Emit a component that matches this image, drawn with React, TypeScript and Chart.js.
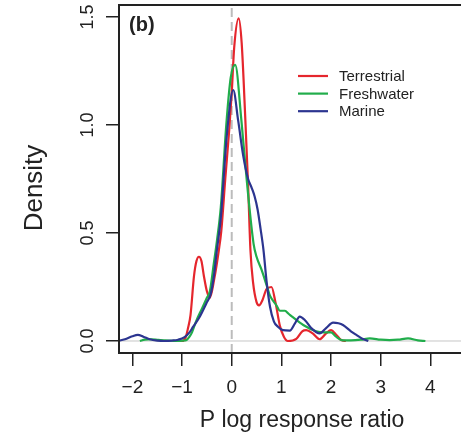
import React, { useEffect, useRef } from 'react';
import { Chart, registerables } from 'chart.js';

Chart.register(...registerables);

// ---- data ----
const seriesNames = ['Terrestrial', 'Freshwater', 'Marine'];
const seriesColors = ['#e5262d', '#21ad4b', '#2c3590'];

const terrestrialX = [-1.1, -1.0, -0.93, -0.88, -0.83, -0.76, -0.71, -0.66, -0.61, -0.56, -0.5, -0.44, -0.35, -0.26, -0.21, -0.13, -0.05, 0.0, 0.05, 0.14, 0.2, 0.275, 0.33, 0.377, 0.43, 0.5, 0.55, 0.62, 0.7, 0.8, 0.88, 0.97, 1.05, 1.13, 1.3, 1.42, 1.5, 1.63, 1.77, 1.9, 2.0, 2.1, 2.2, 2.3];
const terrestrialY = [0, 0, 0.015, 0.06, 0.12, 0.3, 0.37, 0.39, 0.37, 0.3, 0.23, 0.2, 0.29, 0.42, 0.51, 0.75, 0.98, 1.15, 1.36, 1.494, 1.38, 1.02, 0.72, 0.42, 0.27, 0.18, 0.165, 0.19, 0.24, 0.25, 0.18, 0.07, 0.02, 0.0, 0.01, 0.045, 0.05, 0.035, 0.008, 0.035, 0.05, 0.03, 0.005, 0];

const freshwaterX = [-1.85, -1.75, -1.62, -1.48, -1.35, -1.2, -1.09, -0.98, -0.91, -0.85, -0.8, -0.72, -0.6, -0.5, -0.44, -0.36, -0.3, -0.22, -0.11, -0.02, 0.07, 0.195, 0.3, 0.44, 0.5, 0.6, 0.7, 0.77, 0.9, 0.97, 1.07, 1.15, 1.23, 1.44, 1.7, 1.85, 2.0, 2.1, 2.24, 2.4, 2.6, 2.78, 3.0, 3.18, 3.35, 3.55, 3.75, 3.9];
const freshwaterY = [0, 0.006, 0.008, 0.005, 0.003, 0.001, 0, 0.002, 0.005, 0.02, 0.04, 0.09, 0.15, 0.2, 0.23, 0.36, 0.46, 0.62, 1.0, 1.22, 1.278, 1.02, 0.75, 0.45, 0.39, 0.33, 0.26, 0.21, 0.165, 0.14, 0.14, 0.125, 0.11, 0.074, 0.045, 0.04, 0.04, 0.02, 0.003, 0.003, 0.006, 0.012, 0.006, 0.004, 0.006, 0.012, 0.003, 0];

const marineX = [-2.3, -2.15, -2.0, -1.89, -1.78, -1.65, -1.5, -1.35, -1.2, -1.08, -0.95, -0.85, -0.78, -0.65, -0.51, -0.42, -0.36, -0.3, -0.22, -0.1, 0.03, 0.13, 0.23, 0.33, 0.4, 0.46, 0.52, 0.58, 0.64, 0.7, 0.77, 0.85, 0.93, 1.03, 1.17, 1.27, 1.37, 1.48, 1.6, 1.77, 1.9, 2.04, 2.15, 2.24, 2.4, 2.51, 2.62, 2.75];
const marineY = [0, 0.008, 0.022, 0.028, 0.02, 0.008, 0.002, 0, 0.002, 0.006, 0.018, 0.04, 0.065, 0.11, 0.175, 0.22, 0.3, 0.42, 0.57, 0.95, 1.162, 1.02, 0.86, 0.75, 0.71, 0.67, 0.61, 0.52, 0.42, 0.28, 0.16, 0.09, 0.066, 0.05, 0.048, 0.08, 0.113, 0.095, 0.06, 0.035, 0.06, 0.085, 0.082, 0.074, 0.045, 0.028, 0.012, 0];

const xTickValues = [-2, -1, 0, 1, 2, 3, 4];
const xTickLabels = ['\u22122', '\u22121', '0', '1', '2', '3', '4'];
const yTickValues = [0, 0.5, 1, 1.5];
const yTickLabels = ['0.0', '0.5', '1.0', '1.5'];
const xRange = [-2.27, 5.1];
const yRange = [-0.0556, 1.5556];

const xTitle = 'P log response ratio';
const yTitle = 'Density';
const panelLabel = '(b)';

const FONT = '"Liberation Sans", Arial, Helvetica, sans-serif';
const INK = '#222222';

const toPoints = (xs: number[], ys: number[]) => xs.map((x, i) => ({ x, y: ys[i] }));

const decorPlugin = {
  id: 'decor',
  afterDraw(chart: any) {
    const { ctx, chartArea: a } = chart;
    const ys = chart.scales.y;
    ctx.save();
    // box
    ctx.strokeStyle = INK;
    ctx.lineWidth = 2;
    ctx.strokeRect(a.left, a.top, a.right - a.left, a.bottom - a.top);
    // panel label
    ctx.fillStyle = INK;
    ctx.font = `bold 20px ${FONT}`;
    ctx.textAlign = 'left';
    ctx.textBaseline = 'middle';
    ctx.fillText(panelLabel, a.left + 10, a.top + 20);
    // legend
    ctx.font = `15px ${FONT}`;
    [0, 1, 2].forEach((k, i) => {
      const y = 76 + i * 17.6;
      ctx.strokeStyle = seriesColors[k];
      ctx.lineWidth = 2.2;
      ctx.beginPath();
      ctx.moveTo(298, y);
      ctx.lineTo(328, y);
      ctx.stroke();
      ctx.fillStyle = INK;
      ctx.fillText(seriesNames[k], 339, y + 1);
    });
    // y tick labels (rotated, centred on the ticks)
    ctx.font = `18px ${FONT}`;
    ctx.textAlign = 'center';
    yTickValues.forEach((v, i) => {
      const p = ys.getPixelForValue(v);
      ctx.save();
      ctx.translate(ys.right - 31, p);
      ctx.rotate(-Math.PI / 2);
      ctx.fillText(yTickLabels[i], 0, 0);
      ctx.restore();
    });
    // y title
    ctx.translate(35, 188);
    ctx.rotate(-Math.PI / 2);
    ctx.font = `26px ${FONT}`;
    ctx.fillText(yTitle, 0, 0);
    ctx.restore();
  },
};

export default function App() {
  const ref = useRef<HTMLCanvasElement | null>(null);
  useEffect(() => {
    if (!ref.current) return;
    const curve = (k: number, xs: number[], ys: number[]) => ({
      label: seriesNames[k],
      data: toPoints(xs, ys),
      borderColor: seriesColors[k],
      borderWidth: 2.2,
      pointRadius: 0,
      fill: false,
      cubicInterpolationMode: 'monotone' as const,
    });
    const chart = new Chart(ref.current, {
      type: 'line',
      data: {
        datasets: [
          curve(2, marineX, marineY),
          curve(1, freshwaterX, freshwaterY),
          curve(0, terrestrialX, terrestrialY),
          {
            label: 'zero',
            data: [{ x: xRange[0], y: 0 }, { x: xRange[1], y: 0 }],
            borderColor: '#c6c6c6',
            borderWidth: 1,
            pointRadius: 0,
            tension: 0,
          },
          {
            label: 'vzero',
            data: [{ x: 0, y: yRange[0] }, { x: 0, y: yRange[1] }],
            borderColor: '#bcbcbc',
            borderWidth: 2,
            borderDash: [9, 5],
            pointRadius: 0,
            tension: 0,
          },
        ],
      },
      options: {
        responsive: false,
        animation: false,
        events: [],
        layout: { padding: { top: 5, right: 5, left: 0, bottom: 0 } },
        plugins: { legend: { display: false }, tooltip: { enabled: false } },
        scales: {
          x: {
            type: 'linear',
            min: xRange[0],
            max: xRange[1],
            afterBuildTicks: (s: any) => { s.ticks = xTickValues.map((v) => ({ value: v })); },
            afterFit: (s: any) => { s.height = 82; s.paddingLeft = 0; s.paddingRight = 0; },
            border: { display: false },
            grid: { drawOnChartArea: false, drawTicks: true, tickLength: 13, color: INK, lineWidth: 1.5 },
            ticks: {
              autoSkip: false,
              maxRotation: 0,
              padding: 10,
              color: INK,
              font: { family: FONT, size: 19 },
              callback: (v: any) => xTickLabels[xTickValues.indexOf(Number(v))] ?? '',
            },
            title: { display: true, text: xTitle, color: INK, font: { family: FONT, size: 23 }, padding: { top: 0, bottom: 1 } },
          },
          y: {
            type: 'linear',
            min: yRange[0],
            max: yRange[1],
            afterBuildTicks: (s: any) => { s.ticks = yTickValues.map((v) => ({ value: v })); },
            afterFit: (s: any) => { s.width = 119; s.paddingTop = 0; s.paddingBottom = 0; },
            border: { display: false },
            grid: { drawOnChartArea: false, drawTicks: true, tickLength: 13, color: INK, lineWidth: 1.5 },
            ticks: { display: false },
          },
        },
      },
      plugins: [decorPlugin],
    });
    return () => chart.destroy();
  }, []);

  return (
    <div style={{ position: 'fixed', left: 0, top: 0, width: 461, height: 435, overflow: 'hidden', background: '#fff' }}>
      <canvas ref={ref} width={490} height={435} style={{ display: 'block' }} />
    </div>
  );
}
